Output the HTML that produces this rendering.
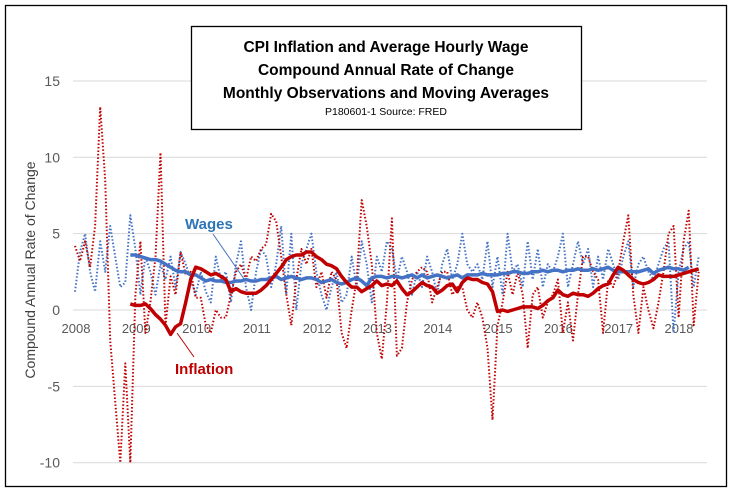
<!DOCTYPE html>
<html><head><meta charset="utf-8"><style>
body{margin:0;background:#fff;width:732px;height:492px;overflow:hidden;font-family:"Liberation Sans",sans-serif}
svg{display:block}
</style></head><body>
<svg id="c" width="732" height="492" xmlns="http://www.w3.org/2000/svg">
<rect x="5.5" y="5.5" width="721" height="481" fill="#fff" stroke="#000" stroke-width="1.3"/>
<g id="grid"></g>
<g id="xt"></g>
<g id="yt"></g>
<g id="series"></g>
<rect x="191.5" y="26.5" width="390" height="103" fill="#fff" stroke="#000" stroke-width="1.3"/>
<g font-weight="bold" font-size="15.5" text-anchor="middle" fill="#000">
<text x="386" y="52">CPI Inflation and Average Hourly Wage</text>
<text x="386" y="75">Compound Annual Rate of Change</text>
<text x="386" y="98">Monthly Observations and Moving Averages</text>
<text x="386" y="115" font-weight="normal" font-size="10.5">P180601-1 Source: FRED</text>
</g>
<text transform="translate(35,270) rotate(-90)" text-anchor="middle" font-size="14" fill="#404040">Compound Annual Rate of Change</text>
<text x="185" y="229" font-size="15" font-weight="bold" fill="#2e75b6">Wages</text>
<line x1="213" y1="234" x2="244" y2="279" stroke="#4472c4" stroke-width="1"/>
<text x="175" y="374" font-size="15" font-weight="bold" fill="#c00000">Inflation</text>
<line x1="177" y1="333" x2="194" y2="357" stroke="#c00000" stroke-width="1"/>
</svg>
<script>
const yTicks=[15,10,5,0,-5,-10];
const xYears=[2008,2009,2010,2011,2012,2013,2014,2015,2016,2017,2018];
const cpi=[4.2,3.2,4.5,2.8,5.5,13.3,8.5,-2.0,-6.0,-10.0,-3.5,-10.0,
1.0,4.5,-1.5,0.5,3.5,10.3,-1.0,2.2,1.0,3.8,2.3,2.5,
0.8,0.8,-1.0,-1.5,0.0,-0.5,-0.5,1.0,2.5,3.0,2.0,3.5,
3.2,4.0,4.3,6.3,5.8,3.5,1.0,-1.0,2.0,4.0,3.0,4.0,
1.5,2.5,0.8,2.5,2.0,-1.5,-2.5,0.0,2.0,7.2,5.5,3.0,
-1.5,-3.2,0.5,6.0,-3.0,-2.5,0.5,2.0,2.5,2.8,2.5,0.5,
1.5,2.5,2.5,1.0,1.5,1.5,0.0,-0.5,0.5,-0.5,-2.5,-7.2,
-1.0,0.5,2.5,1.0,2.5,1.0,-2.5,1.0,1.5,-0.5,0.5,1.0,
2.0,-1.5,0.5,-2.0,1.0,3.5,3.5,2.5,2.0,-1.5,2.0,1.5,
2.5,4.5,6.2,1.0,-1.5,1.5,0.0,-1.2,0.5,2.5,5.0,5.5,
-0.5,4.5,6.5,-1.0,2.5];
const wages=[1.2,3.8,5.0,2.5,1.2,4.5,2.5,5.5,3.5,1.5,1.8,6.2,
4.0,1.0,3.5,2.5,1.0,3.0,2.0,3.5,1.5,3.8,3.0,2.0,
1.0,2.5,1.2,0.5,3.5,2.0,2.5,0.5,3.0,4.5,1.5,0.0,
2.5,4.0,3.5,1.5,3.0,5.5,1.0,5.0,0.0,3.0,4.0,5.0,
2.5,1.0,0.0,1.5,2.5,0.5,1.0,3.5,1.5,4.5,3.0,0.5,
3.5,2.5,4.5,4.0,2.0,3.5,2.5,1.0,2.5,1.5,3.5,2.5,
1.0,3.0,4.0,2.0,3.0,5.0,3.0,2.5,3.0,2.0,4.5,1.5,
3.5,1.0,5.0,2.5,3.0,1.5,4.5,2.0,4.0,1.5,3.0,2.5,
3.5,5.0,1.5,3.0,4.5,3.0,4.0,1.5,3.5,2.0,4.0,3.0,
2.0,3.5,4.5,1.5,3.0,3.5,2.5,2.0,3.0,4.0,4.5,-1.5,
2.5,4.0,4.5,1.5,3.5];
const maStart=11;
const cpiMA=[0.4,0.3,0.3,0.4,0.1,-0.3,-0.6,-1.0,-1.6,-1.1,-0.9,0.5,2.0,2.8,2.7,2.5,2.3,2.4,2.2,2.0,1.2,1.4,1.2,1.1,1.1,1.1,
1.3,1.6,2.0,2.4,2.8,3.3,3.5,3.6,3.6,3.8,3.8,3.5,3.3,3.0,2.9,2.7,2.2,1.8,1.5,1.5,1.2,1.4,1.6,1.9,
1.6,1.7,1.6,1.9,1.4,1.0,1.2,1.5,1.8,1.6,1.5,1.1,1.3,1.6,1.7,1.2,1.8,2.1,2.0,2.0,1.8,1.7,1.2,
-0.1,0.0,-0.1,0.0,0.1,0.2,0.2,0.2,0.1,0.3,0.6,0.8,1.3,1.0,0.9,1.1,1.0,1.0,0.9,1.1,1.4,1.6,1.7,2.3,
2.8,2.6,2.3,2.0,1.8,1.7,1.8,2.0,2.3,2.2,2.2,2.2,2.3,2.4,2.5,2.6,2.7];
const wagesMA=[3.6,3.6,3.5,3.4,3.3,3.3,3.2,3.0,2.8,2.6,2.5,2.5,2.3,2.3,2.1,1.9,2.0,1.9,1.9,1.8,1.8,1.9,1.9,2.0,
1.9,1.9,2.0,2.0,2.1,2.2,2.0,2.1,2.2,2.1,2.0,2.1,2.1,2.0,1.8,1.9,2.0,1.8,1.7,1.8,2.0,2.1,1.9,1.6,2.1,2.2,
2.2,2.1,2.2,2.2,2.1,2.2,2.3,2.1,2.3,2.1,2.2,2.3,2.2,2.1,2.2,2.3,2.1,2.3,
2.3,2.3,2.4,2.3,2.3,2.3,2.4,2.4,2.5,2.5,2.4,2.4,2.5,2.5,2.6,2.5,2.6,2.6,2.5,2.6,2.6,2.7,2.6,2.6,
2.7,2.6,2.7,2.8,2.6,2.5,2.5,2.5,2.5,2.5,2.6,2.7,2.4,2.6,2.7,2.8,2.7,2.7,2.6,2.8];
const NS='http://www.w3.org/2000/svg';
const y=v=>310-15.27*v;
const x=m=>75+m*5.03;
const xy=yr=>76+(yr-2008)*60.3;
function mk(t,a,p){const e=document.createElementNS(NS,t);for(const k in a)e.setAttribute(k,a[k]);p.appendChild(e);return e;}
const G=document.getElementById('grid'),YT=document.getElementById('yt'),XT=document.getElementById('xt'),S=document.getElementById('series');
yTicks.forEach(v=>{
 const l=mk('line',{x1:73,x2:707,y1:y(v),y2:y(v),stroke:'#d9d9d9','stroke-width':1},G);
 
 
 const t=mk('text',{x:60,y:y(v)+5,'text-anchor':'end','font-size':14,fill:'#595959'},YT);
 t.textContent=v;
 
 
});
xYears.forEach(yr=>{
 const t=mk('text',{x:xy(yr),y:333,'text-anchor':'middle','font-size':13,fill:'#595959'},XT);
 t.textContent=yr;
 
 
});
function line(arr,start,color,w,dash,name){
 const d=arr.map((v,i)=>(i?'L':'M')+x(i+start).toFixed(1)+' '+y(v).toFixed(1)).join(' ');
 const p=mk('path',{d:d,fill:'none',stroke:color,'stroke-width':w,'stroke-linejoin':'round'},S);
 if(dash){p.setAttribute('stroke-dasharray',dash);}
 
 
}
line(wages,0,'#4472c4',2,'1.5 2','wages-monthly-line');
line(cpi,0,'#c00000',2,'1.5 2','inflation-monthly-line');
line(wagesMA,maStart,'#4472c4',3.5,null,'wages-moving-average-line');
line(cpiMA,maStart,'#c00000',3.5,null,'inflation-moving-average-line');
</script>
</body></html>
